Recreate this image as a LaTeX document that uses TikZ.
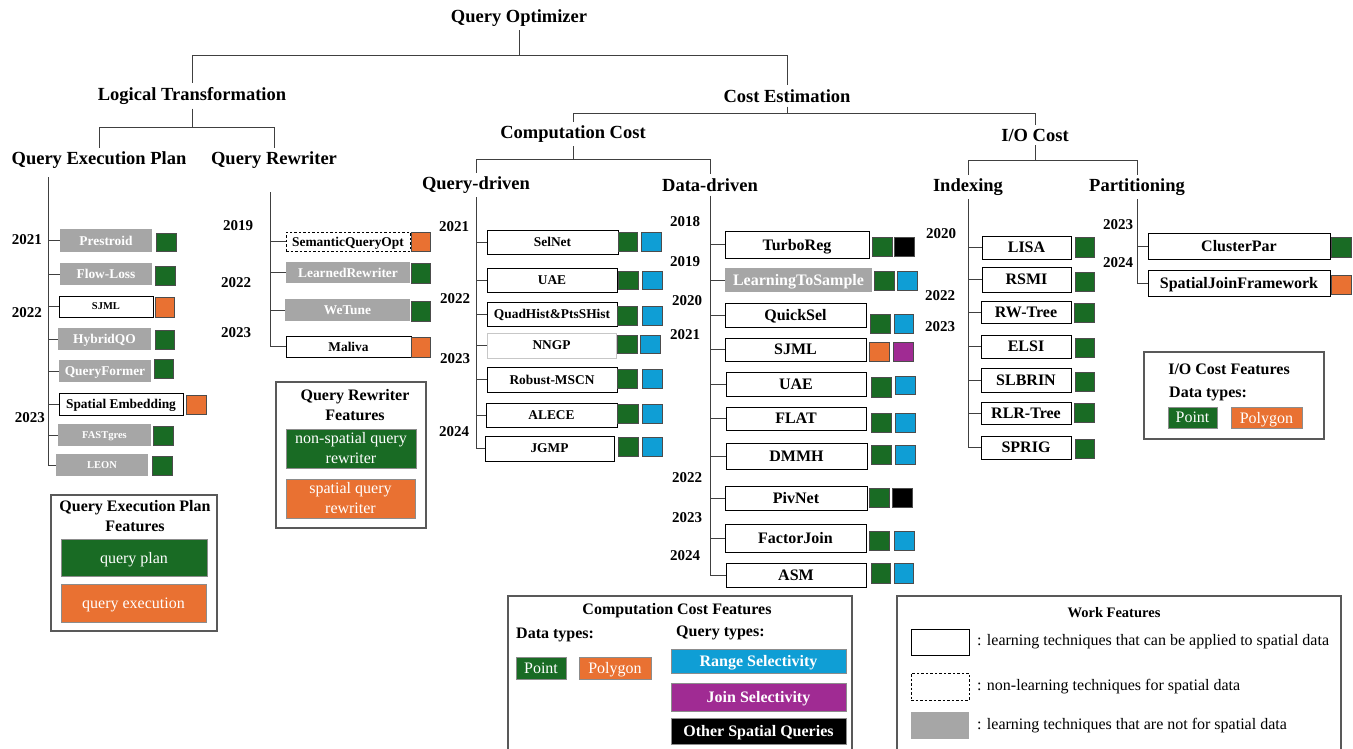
\documentclass[tikz,border=0pt]{standalone}
\usepackage{fontspec}
\setmainfont{Liberation Serif}
\definecolor{cGreen}{HTML}{196B24}
\definecolor{cOrange}{HTML}{E97132}
\definecolor{cBlue}{HTML}{0F9ED5}
\definecolor{cPurple}{HTML}{A02B93}
\definecolor{cGray}{HTML}{A6A6A6}
\newcommand\fsH{\fontsize{18.5}{22}\selectfont\bfseries}
\newcommand\fsY{\fontsize{15}{18}\selectfont\bfseries}
\newcommand\fsA{\fontsize{13.4}{16}\selectfont\bfseries}
\newcommand\fsS{\fontsize{10.5}{12}\selectfont\bfseries}
\newcommand\fsB{\fontsize{16}{19}\selectfont\bfseries}
\newcommand\fsL{\fontsize{16}{20}\selectfont\bfseries}
\newcommand\fsR{\fontsize{16}{20}\selectfont}
\newcommand\fsW{\fontsize{14.5}{17}\selectfont\bfseries}
\newcommand\bx[7]{\node[#2, minimum width={(#5-#3)*1pt}, minimum height={(#6-#4)*1pt}] (#1) at ({(#3+#5)/2},{(#4+#6)/2}) {#7};}
\tikzset{
 bxs/.style={inner sep=0pt, outer sep=0pt, align=center},
 one/.style={text depth=0pt},
 wb/.style={bxs, one, draw=black, line width=0.8pt, fill=white, font=\fsA},
 gb/.style={bxs, one, fill=cGray, text=white, font=\fsA},
 db/.style={bxs, one, draw=black, dash pattern=on 2.5pt off 2pt, line width=0.8pt, font=\fsA},
 lb/.style={bxs, one, draw=black!22, line width=0.8pt, fill=white, font=\fsA},
 sq/.style={bxs, draw=black!70, line width=0.6pt},
 sG/.style={sq, fill=cGreen}, sO/.style={sq, fill=cOrange}, sB/.style={sq, fill=cBlue},
 sP/.style={sq, fill=cPurple}, sK/.style={sq, fill=black},
 hd/.style={font=\fsH, inner sep=1pt, outer sep=3pt},
 yr/.style={font=\fsY, inner sep=0pt},
 treeline/.style={draw=black!75, line width=0.9pt},
 lgbox/.style={bxs, draw=black!65, line width=1.1pt},
 lgt/.style={font=\fsL, align=center, inner sep=0pt},
 chipm/.style={bxs, text=white, font=\fsR, draw=black!45, line width=0.6pt},
 chip/.style={chipm, one},
 wtxt/.style={font=\fsR, inner sep=0pt, anchor=west}
}
\begin{document}
\begin{tikzpicture}[x=1pt,y=-1pt]
\useasboundingbox[fill=white] (0,0) rectangle (1353,748);
% headings
\node[hd] (qo) at (519,18) {Query Optimizer};
\node[hd] (lt) at (192,96) {Logical Transformation};
\node[hd] (ce) at (787,96) {Cost Estimation};
\node[hd] (qep) at (99,160) {Query Execution Plan};
\node[hd] (qr) at (274,160) {Query Rewriter};
\node[hd] (cc) at (573,134) {Computation Cost};
\node[hd] (io) at (1035,135) {I/O Cost};
\node[hd] (qd) at (476,185) {Query-driven};
\node[hd] (dd) at (710,185) {Data-driven};
\node[hd] (idx) at (968,187) {Indexing};
\node[hd] (part) at (1137,187) {Partitioning};
% tree brackets
\coordinate (j1) at (519,55);
\draw[treeline] (qo.south) -- (j1);
\draw[treeline] (lt.north |- j1) -- (ce.north |- j1);
\draw[treeline] (lt.north |- j1) -- (lt.north);
\draw[treeline] (ce.north |- j1) -- (ce.north);
\coordinate (j2) at (192,127);
\draw[treeline] (lt.south) -- (j2);
\draw[treeline] (qep.north |- j2) -- (qr.north |- j2);
\draw[treeline] (qep.north |- j2) -- (qep.north);
\draw[treeline] (qr.north |- j2) -- (qr.north);
\coordinate (j3) at (787,113);
\draw[treeline] (ce.south) -- (j3);
\draw[treeline] (cc.north |- j3) -- (io.north |- j3);
\draw[treeline] (cc.north |- j3) -- (cc.north);
\draw[treeline] (io.north |- j3) -- (io.north);
\coordinate (j4) at (573,159);
\draw[treeline] (cc.south) -- (j4);
\draw[treeline] (qd.north |- j4) -- (dd.north |- j4);
\draw[treeline] (qd.north |- j4) -- (qd.north);
\draw[treeline] (dd.north |- j4) -- (dd.north);
\coordinate (j5) at (1035,160);
\draw[treeline] (io.south) -- (j5);
\draw[treeline] (idx.north |- j5) -- (part.north |- j5);
\draw[treeline] (idx.north |- j5) -- (idx.north);
\draw[treeline] (part.north |- j5) -- (part.north);
% ---------- Query Execution Plan ----------
\coordinate (qepT) at (48,177);
\bx{prestroid}{gb}{60}{229}{152}{252}{Prestroid}
\bx{prestroidG}{sG}{156}{233}{176}{251}{}
\bx{flowloss}{gb}{60}{263}{152}{285}{Flow-Loss}
\bx{flowlossG}{sG}{155}{266}{175}{285}{}
\bx{sjmlA}{wb,font=\fsS}{59}{296}{153}{317}{SJML}
\bx{sjmlAO}{sO}{155}{297}{174}{317}{}
\bx{hybridqo}{gb}{58}{328}{151}{350}{HybridQO}
\bx{hybridqoG}{sG}{155}{330}{174}{349}{}
\bx{queryformer}{gb}{59}{360}{151}{382}{QueryFormer}
\bx{queryformerG}{sG}{154}{359}{173}{378}{}
\bx{spemb}{wb}{59}{393}{183}{415}{Spatial Embedding}
\bx{spembO}{sO}{186}{395}{206}{414}{}
\bx{fastgres}{gb,font=\fsS}{58}{424}{151}{446}{FASTgres}
\bx{fastgresG}{sG}{153}{426}{173}{445}{}
\bx{leon}{gb,font=\fsS}{56}{454}{148}{476}{LEON}
\bx{leonG}{sG}{152}{456}{172}{475}{}
\draw[treeline] (qepT) -- (qepT |- leon.west);
\foreach \n in {prestroid,flowloss,sjmlA,hybridqo,queryformer,spemb,fastgres,leon}
  \draw[treeline] (\n.west -| qepT) -- (\n.west);
\node[yr] (y1) at (27,240) {2021};
\node[yr] (y2) at (27,313) {2022};
\node[yr] (y3) at (30,418) {2023};
% ---------- Query Rewriter ----------
\coordinate (qrT) at (270,192);
\bx{sqo}{db}{286}{232}{410}{251}{SemanticQueryOpt}
\bx{sqoO}{sO}{411}{232}{430}{251}{}
\bx{lrw}{gb}{286}{262}{410}{283}{LearnedRewriter}
\bx{lrwG}{sG}{411}{263}{430}{283}{}
\bx{wetune}{gb}{285}{299}{410}{321}{WeTune}
\bx{wetuneG}{sG}{411}{301}{430}{321}{}
\bx{maliva}{wb}{286}{336}{411}{357}{Maliva}
\bx{malivaO}{sO}{411}{337}{430}{357}{}
\draw[treeline] (qrT) -- (qrT |- maliva.west);
\foreach \n in {sqo,lrw,wetune,maliva}
  \draw[treeline] (\n.west -| qrT) -- (\n.west);
\node[yr] (y4) at (238,226) {2019};
\node[yr] (y5) at (236,283) {2022};
\node[yr] (y6) at (236,333) {2023};
% ---------- Query-driven ----------
\bx{selnet}{wb}{487}{230}{618}{254}{SelNet}
\bx{selnetG}{sG}{618}{232}{637}{251}{}
\bx{selnetB}{sB}{641}{232}{661}{251}{}
\bx{uaeA}{wb}{487}{268}{617}{292}{UAE}
\bx{uaeAG}{sG}{618}{271}{638}{289}{}
\bx{uaeAB}{sB}{642}{271}{662}{289}{}
\bx{quadhist}{wb}{487}{302}{617}{326}{QuadHist\&PtsSHist}
\bx{quadhistG}{sG}{617}{306}{637}{325}{}
\bx{quadhistB}{sB}{642}{306}{662}{325}{}
\bx{nngp}{lb}{487}{333}{616}{358}{NNGP}
\bx{nngpG}{sG}{617}{335}{637}{353}{}
\bx{nngpB}{sB}{640}{335}{660}{353}{}
\bx{robust}{wb}{487}{367}{617}{392}{Robust-MSCN}
\bx{robustG}{sG}{617}{369}{637}{388}{}
\bx{robustB}{sB}{642}{369}{662}{388}{}
\bx{alece}{wb}{486}{403}{617}{427}{ALECE}
\bx{aleceG}{sG}{617}{404}{638}{423}{}
\bx{aleceB}{sB}{642}{404}{662}{423}{}
\bx{jgmp}{wb}{485}{436}{614}{461}{JGMP}
\bx{jgmpG}{sG}{618}{437}{638}{456}{}
\bx{jgmpB}{sB}{642}{437}{662}{456}{}
\draw[treeline] (qd.south) -- (qd.south |- jgmp.west);
\foreach \n in {selnet,uaeA,quadhist,nngp,robust,alece,jgmp}
  \draw[treeline] (\n.west -| qd.south) -- (\n.west);
\node[yr] (y7) at (454,227) {2021};
\node[yr] (y8) at (455,299) {2022};
\node[yr] (y9) at (455,359) {2023};
\node[yr] (y10) at (454,432) {2024};
% ---------- Data-driven ----------
\bx{turboreg}{wb,font=\fsB}{725}{231}{869}{258}{TurboReg}
\bx{turboregG}{sG}{872}{237}{892}{256}{}
\bx{turboregK}{sK}{894}{237}{914}{256}{}
\bx{lts}{gb,font=\fsB}{725}{268}{872}{292}{LearningToSample}
\bx{ltsG}{sG}{874}{271}{894}{290}{}
\bx{ltsB}{sB}{897}{271}{917}{290}{}
\bx{quicksel}{wb,font=\fsB}{725}{303}{866}{327}{QuickSel}
\bx{quickselG}{sG}{870}{314}{890}{333}{}
\bx{quickselB}{sB}{894}{314}{913}{333}{}
\bx{sjmlB}{wb,font=\fsB}{725}{338}{866}{361}{SJML}
\bx{sjmlBO}{sO}{869}{342}{889}{361}{}
\bx{sjmlBP}{sP}{893}{342}{913}{361}{}
\bx{uaeB}{wb,font=\fsB}{726}{372}{866}{396}{UAE}
\bx{uaeBG}{sG}{871}{377}{891}{397}{}
\bx{uaeBB}{sB}{895}{376}{915}{394}{}
\bx{flat}{wb,font=\fsB}{726}{407}{866}{430}{FLAT}
\bx{flatG}{sG}{871}{413}{891}{432}{}
\bx{flatB}{sB}{895}{413}{915}{432}{}
\bx{dmmh}{wb,font=\fsB}{726}{443}{867}{469}{DMMH}
\bx{dmmhG}{sG}{871}{445}{891}{464}{}
\bx{dmmhB}{sB}{895}{445}{915}{464}{}
\bx{pivnet}{wb,font=\fsB}{725}{486}{867}{510}{PivNet}
\bx{pivnetG}{sG}{869}{488}{889}{507}{}
\bx{pivnetK}{sK}{892}{488}{912}{507}{}
\bx{factorjoin}{wb,font=\fsB}{725}{524}{866}{552}{FactorJoin}
\bx{factorjoinG}{sG}{869}{531}{889}{550}{}
\bx{factorjoinB}{sB}{894}{531}{914}{550}{}
\bx{asm}{wb,font=\fsB}{726}{563}{866}{587}{ASM}
\bx{asmG}{sG}{871}{563}{890}{583}{}
\bx{asmB}{sB}{894}{563}{913}{583}{}
\draw[treeline] (dd.south) -- (dd.south |- asm.west);
\foreach \n in {turboreg,lts,quicksel,sjmlB,uaeB,flat,dmmh,pivnet,factorjoin,asm}
  \draw[treeline] (\n.west -| dd.south) -- (\n.west);
\node[yr] (y11) at (685,222) {2018};
\node[yr] (y12) at (685,262) {2019};
\node[yr] (y13) at (687,301) {2020};
\node[yr] (y14) at (685,335) {2021};
\node[yr] (y15) at (687,478) {2022};
\node[yr] (y16) at (687,518) {2023};
\node[yr] (y17) at (685,556) {2024};
% ---------- Indexing ----------
\bx{lisa}{wb,font=\fsB}{982}{236}{1071}{259}{LISA}
\bx{lisaG}{sG}{1075}{237}{1094}{257}{}
\bx{rsmi}{wb,font=\fsB}{982}{267}{1071}{292}{RSMI}
\bx{rsmiG}{sG}{1075}{272}{1094}{291}{}
\bx{rwtree}{wb,font=\fsB}{981}{301}{1071}{323}{RW-Tree}
\bx{rwtreeG}{sG}{1074}{303}{1094}{322}{}
\bx{elsi}{wb,font=\fsB}{981}{335}{1071}{358}{ELSI}
\bx{elsiG}{sG}{1075}{338}{1094}{357}{}
\bx{slbrin}{wb,font=\fsB}{981}{368}{1071}{392}{SLBRIN}
\bx{slbrinG}{sG}{1075}{372}{1094}{391}{}
\bx{rlrtree}{wb,font=\fsB}{981}{402}{1071}{424}{RLR-Tree}
\bx{rlrtreeG}{sG}{1074}{403}{1094}{422}{}
\bx{sprig}{wb,font=\fsB}{981}{436}{1071}{459}{SPRIG}
\bx{sprigG}{sG}{1075}{439}{1094}{458}{}
\draw[treeline] (idx.south) -- (idx.south |- sprig.west);
\foreach \n in {lisa,rsmi,rwtree,elsi,slbrin,rlrtree,sprig}
  \draw[treeline] (\n.west -| idx.south) -- (\n.west);
\node[yr] (y18) at (941,234) {2020};
\node[yr] (y19) at (940,296) {2022};
\node[yr] (y20) at (940,327) {2023};
% ---------- Partitioning ----------
\bx{clusterpar}{wb,font=\fsB}{1148}{233}{1330}{259}{ClusterPar}
\bx{clusterparG}{sG}{1331}{237}{1351}{257}{}
\bx{sjf}{wb,font=\fsB}{1148}{270}{1330}{296}{SpatialJoinFramework}
\bx{sjfO}{sO}{1331}{275}{1351}{294}{}
\draw[treeline] (part.south) -- (part.south |- sjf.west);
\foreach \n in {clusterpar,sjf}
  \draw[treeline] (\n.west -| part.south) -- (\n.west);
\node[yr] (y21) at (1118,225) {2023};
\node[yr] (y22) at (1118,263) {2024};
% ---------- Legends ----------
\bx{qepL}{lgbox}{51}{495}{217}{631}{}
\node[lgt] (qepLt) at (135,516) {Query Execution Plan\\Features};
\bx{qepL1}{chip,fill=cGreen}{61}{539}{207}{576}{query plan}
\bx{qepL2}{chip,fill=cOrange}{61}{584}{206}{622}{query execution}
\bx{qrL}{lgbox}{276}{382}{426}{528}{}
\node[lgt] (qrLt) at (355,405) {Query Rewriter\\Features};
\bx{qrL1}{chipm,fill=cGreen}{286}{429}{416}{468}{non-spatial query\\rewriter}
\bx{qrL2}{chipm,fill=cOrange}{286}{479}{415}{518}{spatial query\\rewriter}
\bx{ccL}{lgbox}{508}{596}{852}{754}{}
\node[lgt] (ccLt) at (677,611) {Computation Cost Features};
\node[lgt, anchor=west] (ccLd) at (516,635) {Data types:};
\node[lgt, anchor=west] (ccLq) at (676,633) {Query types:};
\bx{ccP}{chip,fill=cGreen}{516}{657}{566}{679}{Point}
\bx{ccPo}{chip,fill=cOrange}{579}{657}{651}{679}{Polygon}
\bx{ccR}{chip,fill=cBlue,font=\fsB}{671}{649}{846}{673}{Range Selectivity}
\bx{ccJ}{chip,fill=cPurple,font=\fsB}{671}{683}{846}{711}{Join Selectivity}
\bx{ccO}{chip,fill=black,font=\fsB}{671}{718}{846}{744}{Other Spatial Queries}
\bx{wfL}{lgbox}{897}{596}{1341}{754}{}
\node[font=\fsW, inner sep=0pt] (wfLt) at (1114,613) {Work Features};
\bx{wf1}{bxs,draw=black,line width=0.8pt}{911}{629}{969}{655}{}
\bx{wf2}{bxs,draw=black,dash pattern=on 2.5pt off 2pt,line width=0.8pt}{911}{673}{969}{700}{}
\bx{wf3}{bxs,fill=cGray}{911}{712}{969}{739}{}
\node[wtxt] (wf1t) at (977,642) {: learning techniques that can be applied to spatial data};
\node[wtxt] (wf2t) at (977,687) {: non-learning techniques for spatial data};
\node[wtxt] (wf3t) at (977,726) {: learning techniques that are not for spatial data};
\bx{ioL}{lgbox}{1144}{352}{1324}{439}{}
\node[lgt] (ioLt) at (1229,369) {I/O Cost Features};
\node[lgt, anchor=west] (ioLd) at (1169,394) {Data types:};
\bx{ioP}{chip,fill=cGreen}{1168}{407}{1217}{428}{Point}
\bx{ioPo}{chip,fill=cOrange}{1231}{407}{1302}{428}{Polygon}
\end{tikzpicture}
\end{document}
